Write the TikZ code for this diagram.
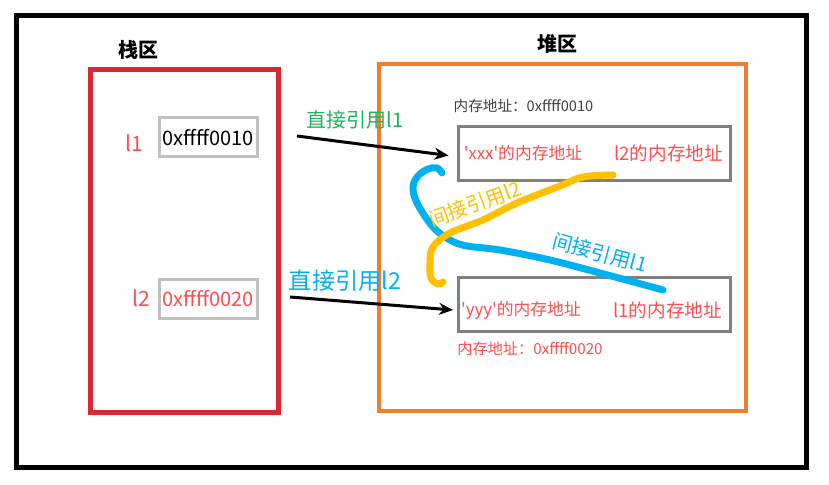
\documentclass[tikz,border=0pt]{standalone}
\usepackage{fontspec}
\setmainfont{Noto Sans CJK SC}
\usetikzlibrary{arrows.meta,positioning}
\definecolor{stackred}{HTML}{DC2832}
\definecolor{heaporange}{HTML}{ED7D31}
\definecolor{addrred}{HTML}{FF4D4D}
\definecolor{directgreen}{HTML}{1FB25A}
\definecolor{refblue}{HTML}{00B0F0}
\definecolor{refyellow}{HTML}{FFC000}
\definecolor{cellgray}{HTML}{C0C0C0}
\definecolor{slotgray}{HTML}{808080}
\newcommand{\sq}{\textquotesingle}

\begin{document}
\begin{tikzpicture}[x=0.5pt, y=-0.5pt,
  area/.style={draw, minimum width=#1, inner sep=0pt},
  cell/.style={draw=cellgray, line width=1.5pt, minimum width=49pt, minimum height=19.5pt, inner sep=0pt, font=\fontsize{10}{12}\selectfont},
  slot/.style={draw=slotgray, line width=1.5pt, minimum width=136pt, minimum height=27pt, inner sep=0pt},
  txt/.style={inner sep=0pt, text=addrred, font=\fontsize{9}{11}\selectfont},
  direct/.style={-{Stealth[length=7pt,width=6pt]}, line width=1.5pt},
  indirect/.style={line width=3.5pt, line cap=round, line join=round},
]
  \useasboundingbox (0,0) rectangle (829,485);
  \fill[white] (0,0) rectangle (829,485);
  \draw[line width=2.5pt] (16,16) rectangle (806,468);

  % stack
  \node[area=94pt, draw=stackred, line width=2.5pt, minimum height=171.5pt] (stack) at (184,241.5) {};
  \node[font=\bfseries\fontsize{10}{12}\selectfont] (stacklbl) at (138,50) {栈区};
  \node[cell] (cell1) at (208,137.5) {0xffff0010};
  \node[cell, text=addrred] (cell2) at (208,299) {0xffff0020};
  \node[txt, font=\fontsize{10.5}{12}\selectfont] (l1) at (134,143) {l1};
  \node[txt, font=\fontsize{10.5}{12}\selectfont] (l2) at (141,298) {l2};

  % heap
  \node[area=183.5pt, draw=heaporange, line width=2pt, minimum height=173.5pt] (heap) at (562.5,237.5) {};
  \node[font=\bfseries\fontsize{10}{12}\selectfont] (heaplbl) at (557,44) {堆区};
  \node[slot] (slot1) at (594,153.5) {};
  \node[slot] (slot2) at (594.5,305) {};
  \node[txt, text=black!75, font=\fontsize{7.3}{9}\selectfont] (addr1) at (523.5,106) {内存地址：0xffff0010};
  \node[txt, font=\fontsize{7.6}{9}\selectfont] (addr2) at (530,349) {内存地址：0xffff0020};
  \node[txt, font=\fontsize{8.4}{10}\selectfont] (xxx) at (523,153) {\sq xxx\sq 的内存地址};
  \node[txt, font=\fontsize{9.3}{11}\selectfont] (l2mem) at (668.5,153) {l2的内存地址};
  \node[txt, font=\fontsize{8.4}{10}\selectfont] (yyy) at (521,310) {\sq yyy\sq 的内存地址};
  \node[txt, font=\fontsize{9.3}{11}\selectfont] (l1mem) at (667.5,310) {l1的内存地址};

  % direct references
  \coordinate (from1) at (297,136);
  \coordinate (from2) at (290,297);
  \draw[direct] (from1) -- ([xshift=-4pt,yshift=-1pt]slot1.west);
  \draw[direct] (from2) -- ([xshift=-2pt,yshift=-2.5pt]slot2.west);
  \node[txt, text=directgreen, font=\fontsize{10}{12}\selectfont] (d1) at (355,120) {直接引用l1};
  \node[txt, text=refblue, font=\fontsize{11.6}{13}\selectfont] (d2) at (345,281) {直接引用l2};

  % indirect references
  \coordinate (l1ref) at (663,290);
  \coordinate (xxxref) at (442,173);
  \coordinate (l2ref) at (613,175);
  \coordinate (yyyref) at (443,282);
  \draw[indirect, refblue] plot[smooth, tension=0.6] coordinates {(l1ref) (630,281) (600,273) (550,260) (500,250) (467,246) (450,240) (433,227) (417,203) (413,187) (418,176) (428,169) (437,168) (xxxref)};
  \draw[indirect, refyellow] plot[smooth, tension=0.6] coordinates {(l2ref) (583,177) (560,186) (517,203) (483,220) (450,233) (433,247) (430,263) (431,278) (438,284) (yyyref)};
  \node[txt, text=refblue, rotate=-15, font=\fontsize{10}{12}\selectfont] (i1) at (600,253) {间接引用l1};
  \node[txt, text=refyellow, rotate=20, font=\fontsize{10}{12}\selectfont] (i2) at (475,204) {间接引用l2};
\end{tikzpicture}
\end{document}
